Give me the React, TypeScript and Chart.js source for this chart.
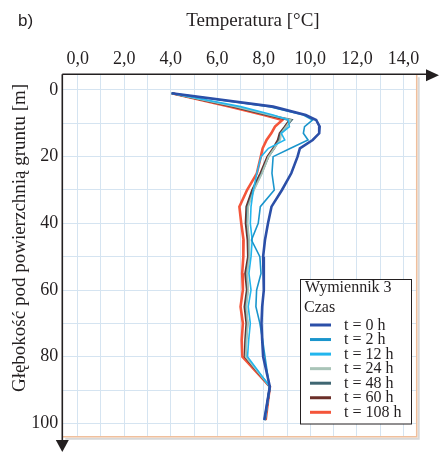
import React, { useEffect, useRef } from 'react';
import { Chart, registerables } from 'chart.js';

Chart.register(...registerables);

// Depth below ground surface [m]
const depths = [1, 5, 7.5, 9, 11, 13, 15, 17.5, 20, 25, 30, 35, 40, 45, 50, 55, 60, 65, 70, 75, 80, 89, 99];

// Temperature [°C] at each depth, per time step
const temp0h = [4.04, 8.4, 9.8, 10.25, 10.4, 10.38, 10.1, 9.55, 9.45, 9.18, 8.78, 8.33, 8.18, 8.05, 7.97, 8.0, 8.0, 7.93, 7.9, 7.93, 7.97, 8.26, 8.02];
const temp2h = [4.04, 8.25, 9.7, 10.1, 9.75, 9.7, 9.9, 9.15, 8.4, 8.35, 8.45, 7.85, 7.76, 7.47, 7.83, 7.88, 7.69, 7.66, 7.83, 7.95, 8.05, 8.24, 8.02];
const temp12h = [4.04, 7.0, 8.4, 9.05, 9.1, 8.75, 8.9, 8.2, 7.88, 7.7, 7.55, 7.45, 7.42, 7.5, 7.45, 7.36, 7.45, 7.33, 7.42, 7.35, 7.3, 8.26, 8.05];
const temp24h = [4.04, 6.8, 8.25, 9.15, 8.95, 8.75, 8.7, 8.45, 8.2, 7.92, 7.58, 7.33, 7.3, 7.37, 7.38, 7.28, 7.33, 7.25, 7.31, 7.26, 7.22, 8.26, 8.05];
const temp48h = [4.04, 6.75, 8.2, 9.2, 8.95, 8.72, 8.65, 8.45, 8.2, 7.9, 7.55, 7.3, 7.28, 7.35, 7.36, 7.26, 7.31, 7.22, 7.3, 7.24, 7.22, 8.26, 8.05];
const temp60h = [4.04, 6.65, 8.15, 9.1, 8.9, 8.68, 8.6, 8.4, 8.15, 7.85, 7.5, 7.25, 7.22, 7.3, 7.32, 7.2, 7.27, 7.17, 7.25, 7.2, 7.18, 8.26, 8.05];
const temp108h = [4.04, 6.55, 8.0, 8.8, 8.48, 8.32, 8.12, 7.95, 7.87, 7.7, 7.28, 6.95, 7.03, 7.13, 7.12, 7.07, 7.1, 7.0, 7.1, 7.05, 7.08, 8.26, 8.08];

const seriesLabels = ['t = 0 h', 't = 2 h', 't = 12 h', 't = 24 h', 't = 48 h', 't = 60 h', 't = 108 h'];
const seriesValues = [temp0h, temp2h, temp12h, temp24h, temp48h, temp60h, temp108h];
const seriesColors = ['#2b4fa8', '#1a95cc', '#22b6ee', '#a9c4b8', '#3f6672', '#6b2e28', '#f4553a'];
const seriesWidths = [2.6, 1.6, 1.6, 1.8, 2, 2, 2.6];

// Tick labels
const xTickLabels = ['0,0', '2,0', '4,0', '6,0', '8,0', '10,0', '12,0', '14,0'];
const yTickLabels = ['0', '20', '40', '60', '80', '100'];

const xTitle = 'Temperatura [°C]';
const yTitle = 'Głębokość pod powierzchnią gruntu [m]';
const panelLabel = 'b)';
const legendTitle1 = 'Wymiennik 3';
const legendTitle2 = 'Czas';

const SERIF = '"Liberation Serif", "Times New Roman", serif';
const SANS = '"Liberation Sans", Arial, sans-serif';
const INK = '#231f20';

const decorPlugin = {
  id: 'decor',
  afterDraw(chart: any) {
    const ctx = chart.ctx;
    const a = chart.chartArea;
    ctx.save();

    // frame right & bottom (peach with shadow)
    ctx.strokeStyle = '#d8d8d8';
    ctx.lineWidth = 2;
    ctx.beginPath();
    ctx.moveTo(a.right + 2, a.top + 3);
    ctx.lineTo(a.right + 2, a.bottom + 2);
    ctx.lineTo(a.left + 3, a.bottom + 2);
    ctx.stroke();
    ctx.strokeStyle = '#f0bf9c';
    ctx.lineWidth = 1.5;
    ctx.beginPath();
    ctx.moveTo(a.right, a.top);
    ctx.lineTo(a.right, a.bottom);
    ctx.lineTo(a.left, a.bottom);
    ctx.stroke();

    // axes with arrows
    ctx.strokeStyle = INK;
    ctx.fillStyle = INK;
    ctx.lineWidth = 1.6;
    ctx.beginPath();
    ctx.moveTo(a.left, a.top);
    ctx.lineTo(428, a.top);
    ctx.moveTo(a.left, a.top);
    ctx.lineTo(a.left, 442);
    ctx.stroke();
    ctx.beginPath();
    ctx.moveTo(439, a.top + 1);
    ctx.lineTo(426, a.top - 5);
    ctx.lineTo(426, a.top + 7);
    ctx.closePath();
    ctx.fill();
    ctx.beginPath();
    ctx.moveTo(a.left, 452);
    ctx.lineTo(a.left - 6.5, 440);
    ctx.lineTo(a.left + 6.5, 440);
    ctx.closePath();
    ctx.fill();

    // titles
    ctx.fillStyle = INK;
    ctx.font = '17px ' + SANS;
    ctx.textAlign = 'left';
    ctx.textBaseline = 'alphabetic';
    ctx.fillText(panelLabel, 18, 26);

    ctx.font = '19px ' + SERIF;
    ctx.textAlign = 'center';
    ctx.fillText(xTitle, 253, 26);

    ctx.save();
    ctx.translate(20, 238);
    ctx.rotate(-Math.PI / 2);
    ctx.textAlign = 'center';
    ctx.textBaseline = 'middle';
    ctx.fillText(yTitle, 0, 0);
    ctx.restore();

    // legend
    const bx = 300.5, by = 279.5, bw = 111, bh = 144.5;
    ctx.fillStyle = '#ffffff';
    ctx.fillRect(bx, by, bw, bh);
    ctx.strokeStyle = INK;
    ctx.lineWidth = 1;
    ctx.strokeRect(bx, by, bw, bh);
    ctx.fillStyle = INK;
    ctx.font = '16px ' + SERIF;
    ctx.textAlign = 'left';
    ctx.textBaseline = 'alphabetic';
    ctx.fillText(legendTitle1, 305, 292);
    ctx.fillText(legendTitle2, 304, 311.5);
    ctx.textBaseline = 'middle';
    chart.data.datasets.forEach((ds: any, i: number) => {
      const cy = 325 + i * 14.55;
      ctx.strokeStyle = ds.borderColor;
      ctx.lineWidth = 3;
      ctx.beginPath();
      ctx.moveTo(310, cy);
      ctx.lineTo(331, cy);
      ctx.stroke();
      ctx.fillStyle = INK;
      ctx.fillText(ds.label, 344, cy + 0.5);
    });

    ctx.restore();
  },
};

export default function App() {
  const ref = useRef<HTMLCanvasElement>(null);
  useEffect(() => {
    document.body.style.margin = '0';
    const datasets = seriesValues.map((vals, i) => ({
      label: seriesLabels[i],
      data: vals.map((t, k) => ({ x: t, y: depths[k] })),
      borderColor: seriesColors[i],
      backgroundColor: seriesColors[i],
      borderWidth: seriesWidths[i],
      showLine: true,
      pointRadius: 0,
      tension: 0,
      fill: false,
    }));
    const chart = new Chart(ref.current as HTMLCanvasElement, {
      type: 'scatter',
      data: { datasets },
      options: {
        animation: false,
        responsive: false,
        devicePixelRatio: 1,
        layout: { padding: { left: 0, top: 0, right: 22.3, bottom: 15.3 } },
        plugins: { legend: { display: false }, tooltip: { enabled: false }, title: { display: false } },
        scales: {
          x: {
            type: 'linear',
            position: 'top',
            min: -0.66,
            max: 14.57,
            border: { display: false },
            grid: { color: '#d5e4f1', lineWidth: 1, drawTicks: false },
            ticks: {
              stepSize: 1,
              autoSkip: false,
              maxRotation: 0,
              includeBounds: false,
              padding: 4,
              color: INK,
              font: { family: SERIF, size: 18 },
              callback: (v: any) => {
                const n = Number(v);
                if (Math.abs(n - Math.round(n)) > 1e-6) return '';
                const r = Math.round(n);
                if (r % 2 !== 0 || r < 0) return '';
                return xTickLabels[r / 2] ?? '';
              },
            },
            afterFit: (s: any) => { s.height = 74.3; },
          },
          y: {
            type: 'linear',
            reverse: true,
            min: -4.7,
            max: 104,
            border: { display: false },
            grid: { color: '#d5e4f1', lineWidth: 1, drawTicks: false },
            ticks: {
              stepSize: 10,
              autoSkip: false,
              includeBounds: false,
              padding: 4,
              color: INK,
              font: { family: SERIF, size: 18 },
              callback: (v: any) => {
                const n = Math.round(Number(v));
                if (n % 20 !== 0 || n < 0) return '';
                return yTickLabels[n / 20] ?? '';
              },
            },
            afterFit: (s: any) => { s.width = 62.3; },
          },
        },
      },
      plugins: [decorPlugin],
    });
    return () => chart.destroy();
  }, []);
  return (
    <div style={{ position: 'relative', width: 439, height: 452, background: '#ffffff' }}>
      <canvas ref={ref} width={439} height={452} style={{ display: 'block', width: 439, height: 452 }} />
    </div>
  );
}
